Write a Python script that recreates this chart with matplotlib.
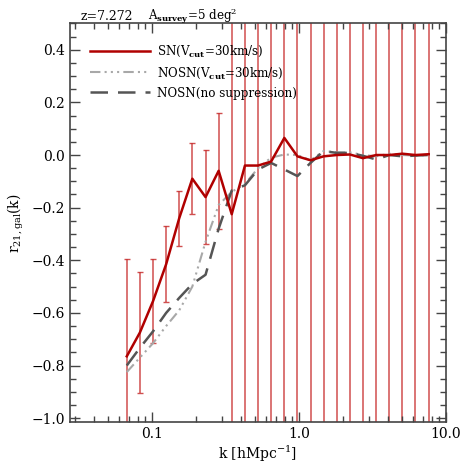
import matplotlib

matplotlib.use("Agg")
import matplotlib.pyplot as plt
from matplotlib.ticker import FixedLocator, MultipleLocator, NullFormatter, LogLocator

plt.rcParams["font.family"] = "DejaVu Serif"
plt.rcParams["mathtext.fontset"] = "dejavuserif"

# wavenumbers
k = [0.0673, 0.0826, 0.1016, 0.1247, 0.1531, 0.1879, 0.2312, 0.2838,
     0.3483, 0.4285, 0.5260, 0.6457, 0.7943, 0.9750, 1.197, 1.469,
     1.807, 2.218, 2.723, 3.350, 4.111, 5.047, 6.194, 7.621]

sn_vcut = [-0.765, -0.675, -0.555, -0.415, -0.240, -0.090, -0.160, -0.060,
           -0.225, -0.040, -0.040, -0.025, 0.065, -0.005, -0.020, -0.005,
           0.000, 0.002, -0.012, 0.000, 0.000, 0.005, 0.000, 0.003]
sn_err = [0.37, 0.23, 0.16, 0.145, 0.105, 0.135, 0.18, 0.22,
          2.0, 2.0, 2.0, 2.0, 2.0, 2.0, 2.0, 2.0,
          2.0, 2.0, 2.0, 2.0, 2.0, 2.0, 2.0, 2.0]

nosn_vcut = [-0.825, -0.770, -0.715, -0.650, -0.590, -0.500, -0.330, -0.190,
             -0.140, -0.110, -0.050, -0.010, 0.002, 0.000, -0.020, 0.015,
             0.010, 0.010, 0.000, -0.005, 0.005, 0.000, -0.002, 0.000]

nosn_nosup = [-0.800, -0.733, -0.670, -0.600, -0.543, -0.490, -0.455, -0.280,
              -0.135, -0.115, -0.055, -0.030, -0.055, -0.080, -0.030, 0.015,
              0.008, 0.008, -0.003, -0.017, 0.000, -0.005, -0.002, 0.000]

fig = plt.figure(figsize=(4.69, 4.69), dpi=100)
ax = fig.add_axes([0.149, 0.100, 0.802, 0.850])

ax.errorbar(k, sn_vcut, yerr=sn_err, fmt="none", ecolor="#c83030", elinewidth=1.1,
            capsize=2.2, capthick=1.0, alpha=0.85, zorder=1)
ax.plot(k, nosn_vcut, color="#a8a8a8", linestyle=(0, (5, 2, 1, 2, 1, 2, 1, 2)), linewidth=1.5,
        label="NOSN(V$_{\\mathbf{cut}}$=30km/s)", zorder=2)
ax.plot(k, nosn_nosup, color="#555555", linestyle=(0, (7, 4)), linewidth=1.8,
        label="NOSN(no suppression)", zorder=2)
ax.plot(k, sn_vcut, color="#b00000", linewidth=1.8, label="SN(V$_{\\mathbf{cut}}$=30km/s)", zorder=3)

ax.set_xscale("log")
ax.set_xlim(0.0276, 10.0)
ax.set_ylim(-1.015, 0.5)
ax.xaxis.set_major_locator(FixedLocator([0.1, 1.0, 10.0]))
ax.set_xticklabels(["0.1", "1.0", "10.0"])
ax.xaxis.set_minor_locator(LogLocator(base=10, subs=range(2, 10)))
ax.xaxis.set_minor_formatter(NullFormatter())
ax.yaxis.set_major_locator(MultipleLocator(0.2))
ax.yaxis.set_minor_locator(MultipleLocator(0.05))
ax.set_yticks([-1.0, -0.8, -0.6, -0.4, -0.2, 0.0, 0.2, 0.4])
ax.set_yticklabels(["\u22121.0", "\u22120.8", "\u22120.6", "\u22120.4", "\u22120.2", "0.0", "0.2", "0.4"])
ax.tick_params(which="both", direction="in", top=True, right=True, labelsize=10, color="#444444")
ax.tick_params(which="major", length=7, width=1)
ax.tick_params(which="minor", length=4, width=1)
for s in ax.spines.values():
    s.set_color("#444444")
    s.set_linewidth(1.2)

ax.set_xlabel("k [hMpc$^{-1}$]", fontsize=10, labelpad=2)
ax.set_ylabel("r$_{21,\\mathrm{gal}}$(k)", fontsize=10, labelpad=4)

handles, labels = ax.get_legend_handles_labels()
order = [2, 0, 1]
ax.legend([handles[i] for i in order], [labels[i] for i in order], loc="upper left",
          frameon=False, fontsize=8.6, handlelength=5.0, handletextpad=0.6,
          labelspacing=0.5, bbox_to_anchor=(0.025, 0.975))

fig.text(0.171, 0.958, "z=7.272", fontsize=9)
fig.text(0.316, 0.958, "A$_{\\mathbf{survey}}$=5 deg$^{2}$", fontsize=8.6)

fig.savefig("out.png", dpi=100)
